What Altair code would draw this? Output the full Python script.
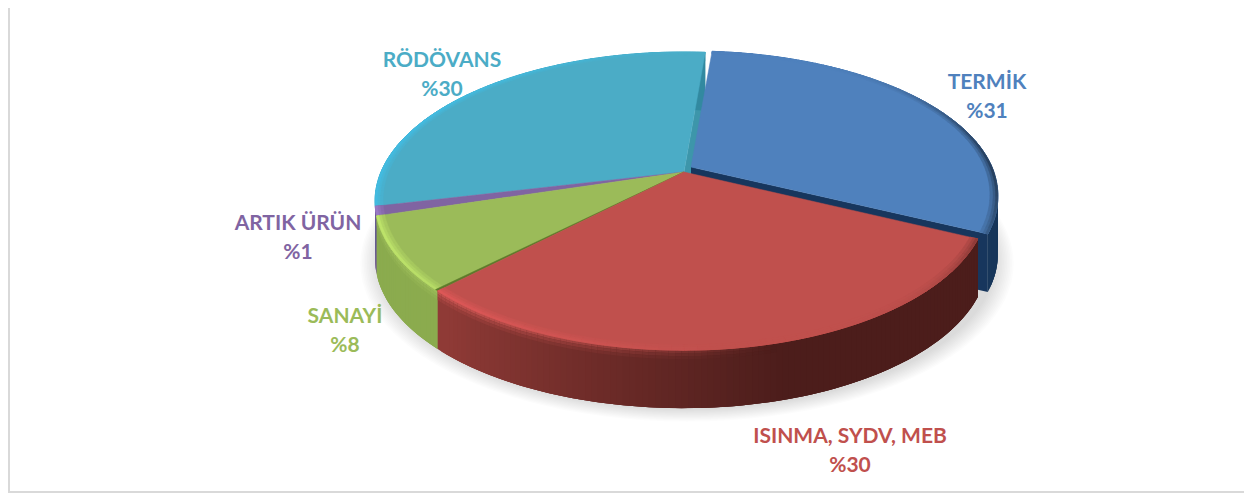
import math
import altair as alt

# ---- values (clockwise from the top)
names = ["TERMİK", "ISINMA, SYDV, MEB", "SANAYİ", "ARTIK ÜRÜN", "RÖDÖVANS"]
shares = [30.7, 30.3, 8, 1, 30]
pct_labels = ["%31", "%30", "%8", "%1", "%30"]
top_colors = ["#4f81bd", "#c0504d", "#9bbb59", "#8064a2", "#4bacc6"]
# wall colours: (left side of picture, right side of picture)
wall_left = ["#24486f", "#8f3a36", "#8bab4e", "#6a4f8a", "#3fa4c0"]
wall_right = ["#17365a", "#4c1d1b", "#6f8a3a", "#5a4278", "#2f8298"]
rim_light = ["#60d0f0", "#ef5d5e", "#c8f070", "#a080d0", "#40c0e8"]
# label anchors on the page
label_pos = [(987, 83), (850, 437), (345, 317), (298, 224), (442, 61)]

W, H = 1236, 486
CX, CY = 684 - 8, 172 - 8      # pie centre in chart pixels
A, B, K = 303.0, 143.4, 0.195  # tilt of the disc
DEPTH = 58
START = 4.8                    # first slice start angle, degrees


def hex2rgb(c):
    return [int(c[i:i + 2], 16) for i in (1, 3, 5)]


def rgb2hex(c):
    return "#" + "".join(f"{max(0, min(255, int(round(v)))):02x}" for v in c)


def mix(c1, c2, t):
    a, b = hex2rgb(c1), hex2rgb(c2)
    return rgb2hex([a[i] + (b[i] - a[i]) * t for i in range(3)])


def no_shift(p):
    return p


def blue_shift(p):
    # the pulled-out first slice
    dy = -1 - 4 * min(1, max(0, (p[1] - 45) / 120))
    dx = 7 - 2 * max(0, (p[0] - CX) / 300)
    return [p[0] + dx, p[1] + dy]


def red_shift(p):
    # the right end of the second slice sits a little inside the disc
    return [p[0] - 5 * max(0, (p[0] - CX) / 300), p[1]]


def pt(theta, r=1.0, f=no_shift):
    t = math.radians(theta)
    u, v = r * math.sin(t), -r * math.cos(t)
    w = 1 - K * v
    return f([CX + A * u / w, CY + B * v / w])


def arc(t0, t1, r=1.0, f=no_shift, step=1.0):
    n = max(2, int(abs(t1 - t0) / step))
    return [pt(t0 + (t1 - t0) * i / n, r, f) for i in range(n + 1)]


def feature(ring, fill, stroke=None, op=1.0):
    ring = ring + [ring[0]]
    return {
        "type": "Feature",
        "geometry": {"type": "Polygon", "coordinates": [ring]},
        "properties": {"fill": fill, "stroke": stroke or fill, "op": op,
                       "sw": 0.5 if stroke else 0},
    }


# slice angle ranges from the shares
total = sum(shares)
angles, a0 = [], START
for s in shares:
    a1 = a0 + 360.0 * s / total
    angles.append((a0, a1))
    a0 = a1

feats = []

# soft shadow below the disc
for i in range(12):
    r = 1.055 - i * 0.005
    feats.append(feature(arc(0, 360, r, lambda p: [p[0] + 3, p[1] + DEPTH + 1], 3), "#777777", None, 0.022))


def down(p, d):
    return [p[0], p[1] + d]


def draw_slice(i, f=no_shift):
    t0, t1 = angles[i]
    base = top_colors[i]
    # cut faces, visible only where a gap or an edge shows them
    if i in (0, 4):
        c, e = pt(0, 0, f), pt(t1, 1, f)
        col = "#17365d" if i == 0 else "#3d96aa"
        feats.append(feature([c, e, down(e, DEPTH), down(c, DEPTH)], col))
    # outer wall: overlapping quads avoid seams between the shades
    n = max(2, int((t1 - t0) / 1.0))
    step = (t1 - t0) / n
    for j in range(n):
        a, b = t0 + step * j, t0 + step * (j + 1)
        p, q, prev = pt(a, 1, f), pt(b, 1, f), pt(max(t0, a - 2 * step), 1, f)
        frac = min(1, max(0, (p[0] - (CX - 240)) / 330)) ** 0.85
        col = mix(wall_left[i], wall_right[i], frac)
        feats.append(feature([prev, p, q, down(q, DEPTH), down(p, DEPTH), down(prev, DEPTH)], col))
    # highlight fading down the upper wall
    for d0, d1, s in [(0, 3, 0.7), (3, 6, 0.4), (6, 9, 0.18)]:
        for j in range(n):
            a, b = t0 + step * j, t0 + step * (j + 1)
            mid = math.radians((a + b) / 2)
            h = (-math.sin(mid) + 0.25) * s
            if h <= 0:
                continue
            p, q = pt(a, 1, f), pt(b, 1, f)
            frac = min(1, max(0, (p[0] - (CX - 240)) / 330)) ** 0.85
            col = mix(mix(wall_left[i], wall_right[i], frac), base, min(1, h * 1.6))
            feats.append(feature([down(p, d0), down(q, d0), down(q, d1), down(p, d1)], col))
    # top face
    ring = [pt(0, 0, f)] + arc(t0, t1, 1, f)
    feats.append(feature(ring, base, base))
    # bevelled rim of the top face
    m = max(2, int((t1 - t0) / 2))
    for r0, strength in [(0.975, 0.35), (0.985, 0.65), (0.993, 1.0)]:
        for j in range(m):
            a, b = t0 + (t1 - t0) * j / m, t0 + (t1 - t0) * (j + 1) / m
            s = math.sin(math.radians((a + b) / 2))
            if s < 0.1:
                col = mix(base, rim_light[i], 0.75 * min(1, 0.1 - s) * strength)
            else:
                col = mix(base, "#000000", 0.5 * s ** 6 * strength)
            feats.append(feature(arc(a, b, 1, f) + arc(b, a, r0, f), col, col))


# back to front so nearer slices cover the others
draw_slice(4)
draw_slice(3)
draw_slice(0, blue_shift)
draw_slice(2)
# dark seam between the green and red slices
t = angles[1][1]
feats.append(feature([pt(0, 0), pt(t, 1), pt(t + 0.6, 1)], "#5f7a2c", "#5f7a2c"))
draw_slice(1, red_shift)

pie = alt.Chart(alt.Data(values=feats)).mark_geoshape().encode(
    fill=alt.Fill("properties.fill:N", scale=None),
    stroke=alt.Stroke("properties.stroke:N", scale=None),
    strokeWidth=alt.StrokeWidth("properties.sw:Q", scale=None),
    opacity=alt.Opacity("properties.op:Q", scale=None),
).project(type="identity", scale=1, translate=[0, 0])

layers = [pie]

font = dict(font="Lato", fontWeight="bold", fontSize=21, align="center", baseline="middle")
for name, pct, col, (px, py) in zip(names, pct_labels, top_colors, label_pos):
    tbl = alt.Data(values=[{"a": name, "b": pct}])
    layers.append(alt.Chart(tbl).mark_text(color=col, **font).encode(
        text="a:N", x=alt.value(px - 8), y=alt.value(py - 8)))
    layers.append(alt.Chart(tbl).mark_text(color=col, **font).encode(
        text="b:N", x=alt.value(px - 8), y=alt.value(py + 29 - 8)))

# frame of the picture
frame = alt.Data(values=[{"k": 1}])
layers.append(alt.Chart(frame).mark_rule(color="#d9d9d9", strokeWidth=2).encode(
    x=alt.value(1), y=alt.value(0), y2=alt.value(484)))
layers.append(alt.Chart(frame).mark_rule(color="#d9d9d9", strokeWidth=2).encode(
    x=alt.value(0), x2=alt.value(W), y=alt.value(484)))

chart = alt.layer(*layers).properties(
    width=W, height=H, padding=0, autosize=alt.AutoSizeParams(type="none"), background="#ffffff",
).configure_view(stroke=None)

chart.save("out.html", embed_options={"renderer": "svg", "actions": False})
